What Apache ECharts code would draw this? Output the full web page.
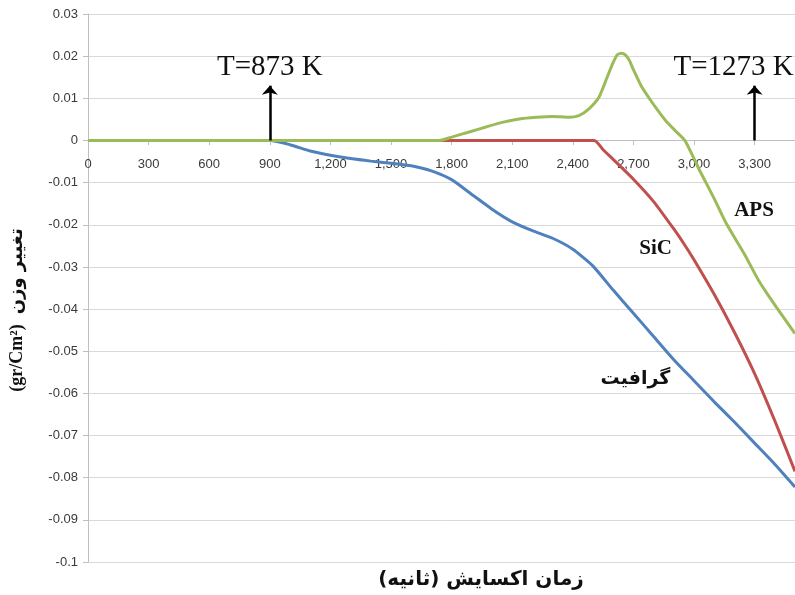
<!DOCTYPE html>
<html>
<head>
<meta charset="utf-8">
<script src="https://cdn.jsdelivr.net/npm/echarts@6/dist/echarts.min.js"></script>
<style>
  html, body { margin: 0; padding: 0; background: #fff; }
  #chart { width: 795px; height: 595px; }
</style>
</head>
<body>
<div id="chart"></div>
<script>
// Oxidation time (s) versus weight change (gr/Cm²) for three coatings
const apsTime = [0, 1700, 1740, 1800, 1900, 1970, 2050, 2135, 2220, 2300, 2380, 2430, 2480, 2530, 2570, 2600, 2620, 2640, 2660, 2680, 2700, 2740, 2780, 2820, 2860, 2910, 2955, 3030, 3100, 3160, 3250, 3320, 3400, 3500];
const apsGain = [0, 0, 0, 0.0008, 0.0022, 0.0032, 0.0043, 0.0051, 0.0055, 0.0057, 0.0055, 0.0059, 0.0075, 0.0103, 0.015, 0.0185, 0.0203, 0.0207, 0.0203, 0.019, 0.0168, 0.0128, 0.0099, 0.0072, 0.0047, 0.0022, 0, -0.0073, -0.0138, -0.0197, -0.027, -0.0332, -0.039, -0.0458];

const sicTime = [0, 2506, 2550, 2600, 2700, 2800, 2900, 2950, 3000, 3100, 3200, 3300, 3400, 3500];
const sicGain = [0, 0, -0.0022, -0.0045, -0.0092, -0.0145, -0.021, -0.0245, -0.0283, -0.0365, -0.0455, -0.0553, -0.0665, -0.0785];

const graphiteTime = [0, 900, 1000, 1100, 1200, 1300, 1400, 1500, 1600, 1700, 1800, 1900, 2000, 2100, 2200, 2300, 2400, 2500, 2600, 2700, 2800, 2900, 3000, 3100, 3200, 3300, 3400, 3500];
const graphiteGain = [0, 0, -0.001, -0.0025, -0.0035, -0.0043, -0.0049, -0.0054, -0.006, -0.0072, -0.0093, -0.0128, -0.0163, -0.0193, -0.0214, -0.0232, -0.0258, -0.0298, -0.0355, -0.041, -0.0465, -0.052, -0.057, -0.062, -0.0668, -0.0718, -0.0768, -0.0822];

// Temperature markers (time, label)
const tempTimes = [900, 3300];
const tempLabels = ['T=873 K', 'T=1273 K'];

// Curve labels: [time, gain, text]
const curveLabels = [
  [3297, -0.0166, 'APS'],
  [2810, -0.0256, 'SiC'],
  [2710, -0.0565, 'گرافیت']
];

const RLM = '\u200F';
const xTitle = 'زمان اکسایش (ثانیه)';
const yTitleUnit = '(gr/Cm²)';
const yTitleText = 'تغییر وزن';

const pairs = (xs, ys) => xs.map((x, i) => [x, ys[i]]);

const chart = echarts.init(document.getElementById('chart'), null, { renderer: 'canvas' });

const lineBase = {
  type: 'line',
  showSymbol: false,
  smooth: 0.2
};

chart.setOption({
  animation: false,
  grid: { left: 88, right: 0, top: 14, bottom: 33, containLabel: false },
  xAxis: {
    type: 'value',
    min: 0,
    max: 3500,
    interval: 300,
    offset: -422,
    axisLine: { onZero: false, lineStyle: { color: '#bfbfbf', width: 1 } },
    axisTick: { show: true, length: 5, lineStyle: { color: '#bfbfbf' } },
    splitLine: { show: false },
    axisLabel: {
      showMaxLabel: false,
      margin: 18,
      fontFamily: 'Liberation Sans',
      fontSize: 13,
      color: '#3a3a3a',
      formatter: v => v.toLocaleString('en-US')
    }
  },
  yAxis: {
    type: 'value',
    min: -0.1,
    max: 0.03,
    interval: 0.01,
    axisLine: { show: true, lineStyle: { color: '#bfbfbf', width: 1 } },
    axisTick: { show: true, length: 5, lineStyle: { color: '#bfbfbf' } },
    splitLine: { show: true, lineStyle: { color: '#d9d9d9', width: 1 } },
    axisLabel: {
      margin: 10,
      fontFamily: 'Liberation Sans',
      fontSize: 13,
      color: '#3a3a3a',
      formatter: v => String(+v.toFixed(2))
    },
    name: '{a|' + yTitleUnit + '}   {b|' + yTitleText + '}',
    nameLocation: 'middle',
    nameRotate: 90,
    nameGap: 62,
    nameTextStyle: {
      padding: [0, 44, 0, 0],
      rich: {
        a: { fontFamily: 'Liberation Serif', fontWeight: 'bold', fontSize: 18, color: '#111' },
        b: { fontFamily: 'DejaVu Sans', fontWeight: 'bold', fontSize: 18, color: '#111' }
      }
    }
  },
  graphic: [{
    type: 'text',
    x: 481,
    y: 580,
    style: {
      text: RLM + xTitle + RLM,
      align: 'center',
      verticalAlign: 'middle',
      fontFamily: 'DejaVu Sans',
      fontWeight: 'bold',
      fontSize: 20,
      fill: '#111'
    }
  }],
  series: [
    Object.assign({}, lineBase, {
      name: 'گرافیت',
      data: pairs(graphiteTime, graphiteGain),
      lineStyle: { color: '#4f81bd', width: 3 },
      itemStyle: { color: '#4f81bd' },
      z: 2
    }),
    Object.assign({}, lineBase, {
      name: 'SiC',
      data: pairs(sicTime, sicGain),
      lineStyle: { color: '#c0504d', width: 3 },
      itemStyle: { color: '#c0504d' },
      z: 3
    }),
    Object.assign({}, lineBase, {
      name: 'APS',
      data: pairs(apsTime, apsGain),
      lineStyle: { color: '#9bbb59', width: 3 },
      itemStyle: { color: '#9bbb59' },
      z: 4,
      markLine: {
        silent: true,
        symbol: ['none', 'arrow'],
        symbolSize: [12, 9],
        lineStyle: { color: '#000', width: 2.5, type: 'solid' },
        label: {
          show: true,
          position: 'end',
          distance: 4,
          fontFamily: 'Liberation Serif',
          fontSize: 29,
          color: '#111'
        },
        data: tempTimes.map((t, i) => [
          { coord: [t, 0] },
          {
            coord: [t, 0.013],
            label: { formatter: tempLabels[i], offset: i === 1 ? [-21, 0] : [0, 0] }
          }
        ])
      },
      markPoint: {
        silent: true,
        symbol: 'circle',
        symbolSize: 0,
        label: {
          show: true,
          position: 'inside',
          fontWeight: 'bold',
          color: '#111'
        },
        data: curveLabels.map(([t, g, text]) => {
          const latin = /[A-Za-z]/.test(text);
          return {
            coord: [t, g],
            label: {
              formatter: text,
              fontFamily: latin ? 'Liberation Serif' : 'DejaVu Sans',
              fontSize: latin ? 21 : 19
            }
          };
        })
      }
    })
  ]
});
</script>
</body>
</html>
